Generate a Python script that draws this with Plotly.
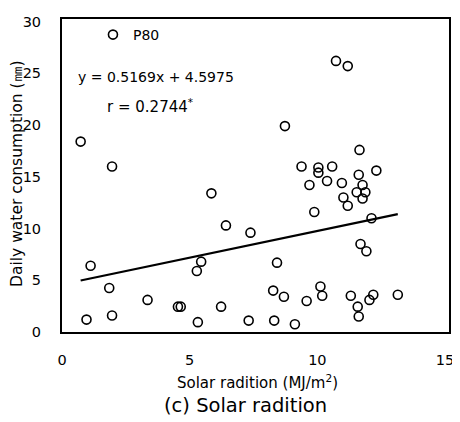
import plotly.graph_objects as go

# Solar radiation (MJ/m2) and daily water consumption (mm), P80
solar = [0.73, 1.96, 5.85, 1.12, 1.85, 0.96, 1.96, 3.35, 4.54, 4.65, 5.28, 5.45, 5.32,
         6.42, 6.23, 7.38, 7.31, 8.31, 9.12, 8.42, 8.27, 8.69, 9.58, 10.12, 10.19,
         11.31, 11.58, 11.62, 12.04, 12.19, 13.15, 11.69, 11.92, 9.88, 12.12, 11.02,
         11.19, 10.73, 11.19, 8.73, 11.65, 9.38, 10.04, 10.04, 10.58, 12.31, 11.62,
         9.69, 10.38, 10.96, 11.77, 11.54, 11.88, 11.77]
water = [18.4, 16.0, 13.4, 6.4, 4.25, 1.2, 1.6, 3.1, 2.45, 2.45, 5.9, 6.8, 0.95,
         10.3, 2.45, 9.6, 1.1, 1.1, 0.75, 6.7, 4.0, 3.4, 3.0, 4.4, 3.5,
         3.5, 2.45, 1.5, 3.1, 3.6, 3.6, 8.5, 7.8, 11.6, 11.0, 13.0,
         12.2, 26.2, 25.7, 19.9, 17.6, 16.0, 15.9, 15.4, 16.0, 15.6, 15.2,
         14.2, 14.6, 14.4, 14.2, 13.5, 13.5, 12.9]

slope = 0.5169
intercept = 4.5975
fit_x = [min(solar), max(solar)]
fit_y = [slope * v + intercept for v in fit_x]

x_ticks = [0, 5, 10, 15]
y_ticks = [0, 5, 10, 15, 20, 25, 30]

FONT = "DejaVu Sans, Verdana, sans-serif"

fig = go.Figure()
fig.add_trace(go.Scatter(
    x=fit_x, y=fit_y, mode="lines",
    line=dict(color="black", width=2.2), showlegend=False, hoverinfo="skip"))
fig.add_trace(go.Scatter(
    x=solar, y=water, mode="markers", name="P80",
    marker=dict(symbol="circle-open", size=9, color="black", line=dict(width=1.6))))

# page body has an 8px default margin, so the figure is 8px smaller than the window
fig.update_layout(
    width=452, height=414,
    margin=dict(l=54, r=8, t=6, b=90),
    paper_bgcolor="white", plot_bgcolor="white",
    font=dict(family=FONT, size=15, color="black"),
    showlegend=True,
    legend=dict(x=0.08, y=1.0, xanchor="left", yanchor="top",
                bgcolor="rgba(0,0,0,0)", font=dict(size=14, family=FONT),
                itemwidth=30),
    xaxis=dict(range=[0, 15.155], tickvals=x_ticks, showgrid=False, zeroline=False,
               showline=True, linecolor="black", linewidth=2, mirror=True,
               ticks="", ticklabelstandoff=14, tickfont=dict(size=14.5)),
    yaxis=dict(range=[0, 30.25], tickvals=y_ticks, showgrid=False, zeroline=False,
               showline=True, linecolor="black", linewidth=2, mirror=True,
               ticks="", ticklabelstandoff=16, tickfont=dict(size=14.5)),
    annotations=[
        dict(text="y = 0.5169x + 4.5975", x=3.7, y=24.6, xref="x", yref="y",
             showarrow=False, font=dict(size=14)),
        dict(text="r = 0.2744<sup>*</sup>", x=3.45, y=21.8, xref="x", yref="y",
             showarrow=False, font=dict(size=15)),
        dict(text="Solar radition (MJ/m<sup>2</sup>)", x=0.506, y=-0.16,
             xref="paper", yref="paper", showarrow=False, yanchor="middle",
             font=dict(size=15)),
        dict(text="(c) Solar radition", x=0.474, y=-0.235,
             xref="paper", yref="paper", showarrow=False, yanchor="middle",
             font=dict(size=19.5)),
        dict(text="Daily water consumption (㎜)", x=-0.118, y=0.506,
             xref="paper", yref="paper", showarrow=False, textangle=-90,
             xanchor="center", yanchor="middle", font=dict(size=15.5)),
    ],
)

fig.write_html("out.html", config={"displayModeBar": False})
